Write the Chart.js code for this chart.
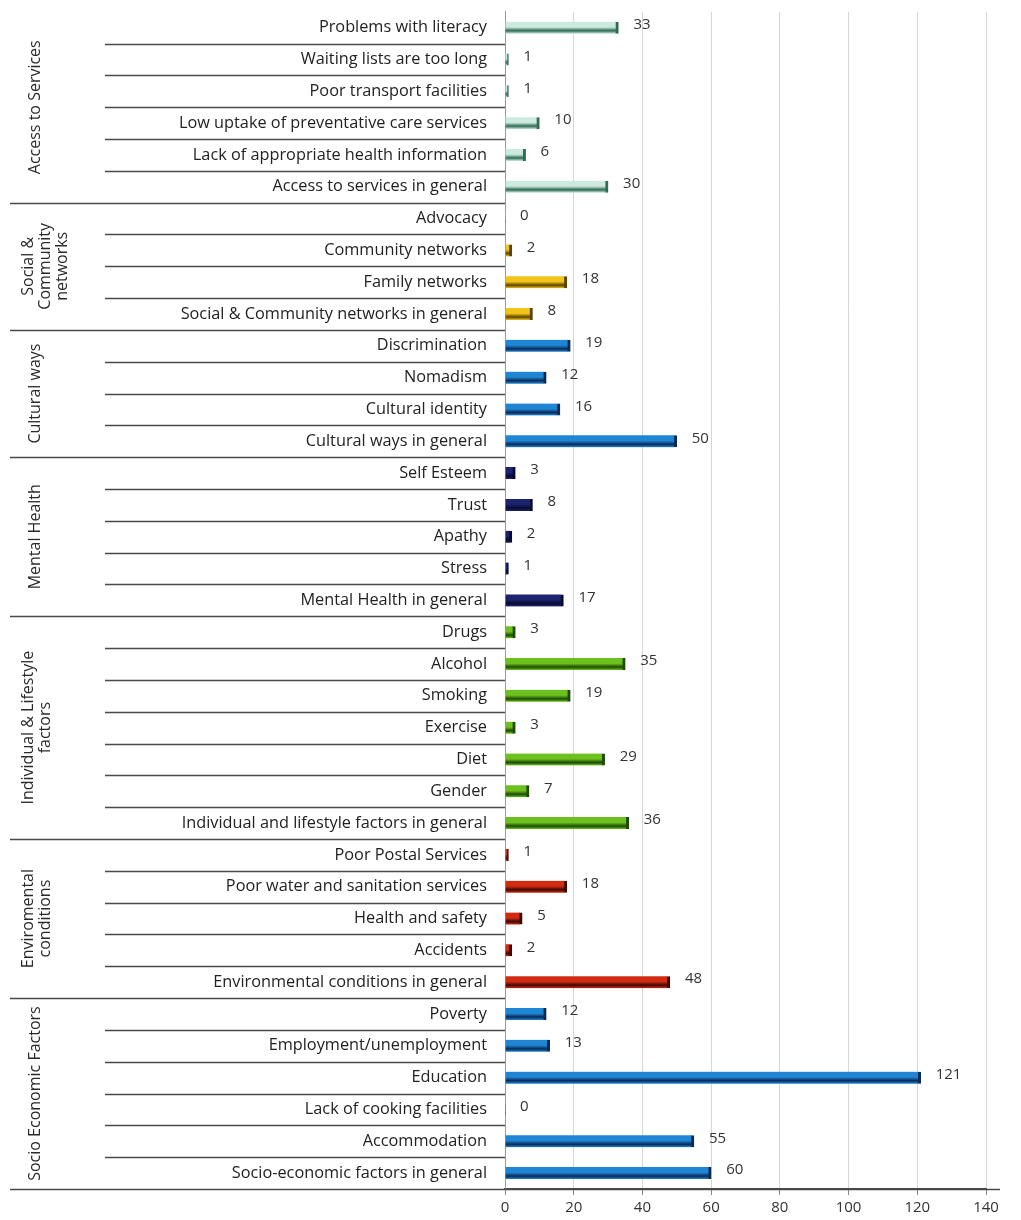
<!DOCTYPE html>
<html>
<head>
<meta charset="utf-8">
<script src="https://cdn.jsdelivr.net/npm/chart.js@4/dist/chart.umd.min.js"></script>
<style>
  html, body { margin: 0; padding: 0; background: #fff; }
  #wrap { position: relative; width: 1021px; height: 1220px; }
</style>
</head>
<body>
<div id="wrap"><canvas id="chart"></canvas></div>
<script>
// Data
const groupNames = [
    ['Access to Services'],
    ['Social &', 'Community', 'networks'],
    ['Cultural ways'],
    ['Mental Health'],
    ['Individual & Lifestyle', 'factors'],
    ['Enviromental', 'conditions'],
    ['Socio Economic Factors']
];
const groupSizes = [6, 4, 4, 5, 7, 5, 6];
const categories = [
    'Problems with literacy', 'Waiting lists are too long', 'Poor transport facilities',
    'Low uptake of preventative care services', 'Lack of appropriate health information',
    'Access to services in general',
    'Advocacy', 'Community networks', 'Family networks', 'Social & Community networks in general',
    'Discrimination', 'Nomadism', 'Cultural identity', 'Cultural ways in general',
    'Self Esteem', 'Trust', 'Apathy', 'Stress', 'Mental Health in general',
    'Drugs', 'Alcohol', 'Smoking', 'Exercise', 'Diet', 'Gender',
    'Individual and lifestyle factors in general',
    'Poor Postal Services', 'Poor water and sanitation services', 'Health and safety',
    'Accidents', 'Environmental conditions in general',
    'Poverty', 'Employment/unemployment', 'Education', 'Lack of cooking facilities',
    'Accommodation', 'Socio-economic factors in general'
];
const counts = [
    33, 1, 1, 10, 6, 30,
    0, 2, 18, 8,
    19, 12, 16, 50,
    3, 8, 2, 1, 17,
    3, 35, 19, 3, 29, 7, 36,
    1, 18, 5, 2, 48,
    12, 13, 121, 0, 55, 60
];
const xTicks = [0, 20, 40, 60, 80, 100, 120, 140];

// Styles per group
const GROUP_COLORS = [
    { fill: '#cdeadf', end: '#2f6b55' },
    { fill: '#f2c418', end: '#5a4300' },
    { fill: '#1f86d6', end: '#0b2a55' },
    { fill: '#1c2470', end: '#070b30' },
    { fill: '#6cc11e', end: '#1d4a05' },
    { fill: '#d12b12', end: '#3d0800' },
    { fill: '#1f86d6', end: '#0b2a55' }
];
const FONT = '"Open Sans", "Liberation Sans", sans-serif';

const groupOf = [];
groupSizes.forEach((n, g) => { for (let i = 0; i < n; i++) groupOf.push(g); });

function barGradient(context) {
    const c = GROUP_COLORS[groupOf[context.dataIndex]];
    const yScale = context.chart.scales && context.chart.scales.y;
    if (!yScale || !context.chart.chartArea) return c.fill;
    const y = yScale.getPixelForValue(context.dataIndex);
    if (!Number.isFinite(y)) return c.fill;
    const h = 12;
    const grad = context.chart.ctx.createLinearGradient(0, y - h / 2, 0, y + h / 2);
    grad.addColorStop(0, c.fill);
    grad.addColorStop(0.45, c.fill);
    grad.addColorStop(0.75, c.end);
    grad.addColorStop(1, c.fill);
    return grad;
}

// separators between rows and group labels on the left
const sideDecor = {
    id: 'sideDecor',
    afterDraw(chart) {
        const ctx = chart.ctx;
        const y = chart.scales.y;
        const left = chart.chartArea.left;
        const step = y.getPixelForValue(1) - y.getPixelForValue(0);
        ctx.save();
        ctx.strokeStyle = '#4a4a4a';
        ctx.lineWidth = 1.3;
        let idx = 0;
        const groupEnds = new Set();
        groupSizes.forEach(n => { idx += n; groupEnds.add(idx - 1); });
        for (let i = 0; i < categories.length; i++) {
            const yy = Math.round(y.getPixelForValue(i) + step / 2) + 0.5;
            const isGroupEnd = groupEnds.has(i);
            ctx.beginPath();
            ctx.moveTo(isGroupEnd ? 10 : 105, yy);
            ctx.lineTo(i === categories.length - 1 ? 1000 : left, yy);
            ctx.stroke();
        }
        // group labels
        ctx.fillStyle = '#2a2a2a';
        ctx.font = '16px ' + FONT;
        ctx.textAlign = 'center';
        ctx.textBaseline = 'middle';
        let start = 0;
        groupSizes.forEach((n, g) => {
            const top = y.getPixelForValue(start) - step / 2;
            const bottom = y.getPixelForValue(start + n - 1) + step / 2;
            const cy = (top + bottom) / 2;
            const lines = groupNames[g];
            const lh = 17;
            const cx = 35 + (lines.length - 1) * lh / 2 - (lines.length > 1 ? 7 : 0);
            ctx.save();
            ctx.translate(cx, cy);
            ctx.rotate(-Math.PI / 2);
            lines.forEach((t, k) => {
                ctx.fillText(t, 0, (k - (lines.length - 1) / 2) * lh);
            });
            ctx.restore();
            start += n;
        });
        ctx.restore();
    }
};

// value labels at the end of each bar
const valueLabels = {
    id: 'valueLabels',
    afterDatasetsDraw(chart) {
        const ctx = chart.ctx;
        const meta = chart.getDatasetMeta(0);
        ctx.save();
        ctx.fillStyle = '#333';
        ctx.font = '15px ' + FONT;
        ctx.textAlign = 'left';
        ctx.textBaseline = 'middle';
        meta.data.forEach((bar, i) => {
            ctx.fillText(String(counts[i]), bar.x + 15, bar.y - 3);
        });
        ctx.restore();
    }
};

function buildChart() {
    const ctx = document.getElementById('chart');
    new Chart(ctx, {
        type: 'bar',
        data: {
            labels: categories,
            datasets: [{
                data: counts,
                backgroundColor: barGradient,
                borderColor: context => GROUP_COLORS[groupOf[context.dataIndex]].end,
                borderWidth: { left: 0, top: 0, bottom: 0, right: 3 },
                borderSkipped: false,
                barThickness: 12
            }]
        },
        options: {
            indexAxis: 'y',
            responsive: true,
            maintainAspectRatio: false,
            animation: false,
            layout: { padding: { top: 11, right: 35, bottom: 0, left: 0 } },
            plugins: {
                legend: { display: false },
                tooltip: { enabled: false }
            },
            scales: {
                x: {
                    position: 'bottom',
                    min: 0,
                    max: 140,
                    afterBuildTicks: scale => { scale.ticks = xTicks.map(v => ({ value: v })); },
                    grid: {
                        color: '#d6d6d6',
                        lineWidth: 1,
                        tickLength: 6,
                        tickColor: '#888'
                    },
                    border: { display: true, color: '#4a4a4a', width: 1.3 },
                    ticks: {
                        color: '#333',
                        font: { family: FONT, size: 15, lineHeight: 1 },
                        padding: 5
                    }
                },
                y: {
                    afterFit: scale => { scale.width = 505; },
                    grid: {
                        display: true,
                        drawOnChartArea: false,
                        drawTicks: true,
                        tickLength: 16,
                        tickColor: 'rgba(0,0,0,0)'
                    },
                    border: { display: true, color: '#9a9a9a', width: 1 },
                    ticks: {
                        color: '#222',
                        font: { family: FONT, size: 16.3 },
                        padding: 2,
                        autoSkip: false
                    }
                }
            }
        },
        plugins: [sideDecor, valueLabels]
    });
}

document.addEventListener('DOMContentLoaded', buildChart);
</script>
</body>
</html>
